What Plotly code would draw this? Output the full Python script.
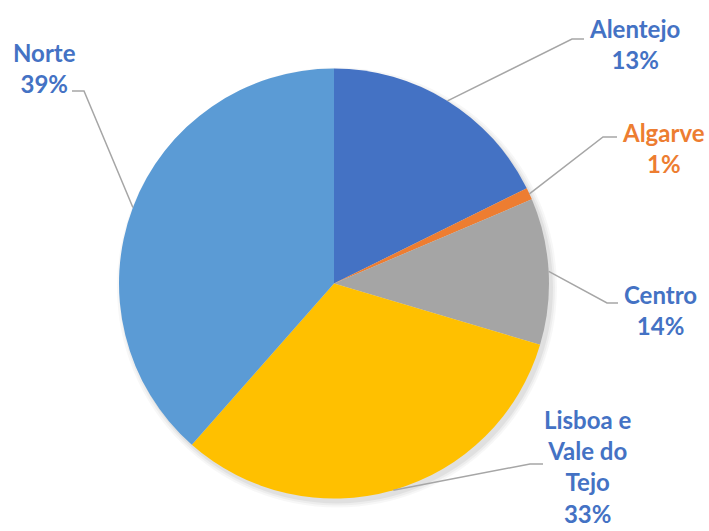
import math
import plotly.graph_objects as go

regions = ["Alentejo", "Algarve", "Centro", "Lisboa e Vale do Tejo", "Norte"]
shares = [17.7, 0.9, 11.0, 31.9, 38.5]
label_text = ["Alentejo<br>13%", "Algarve<br>1%", "Centro<br>14%",
              "Lisboa e<br>Vale do<br>Tejo<br>33%", "Norte<br>39%"]
colors = ["#4472C4", "#ED7D31", "#A5A5A5", "#FFC000", "#5B9BD5"]
label_colors = ["#4472C4", "#ED7D31", "#4472C4", "#4472C4", "#4472C4"]

W, H = 709, 531
cx, cy, R = 334, 283.5, 215

# label block centres and leader elbows (pixels)
label_pos = [(634, 44), (663, 148), (660, 310), (588, 466), (44, 68)]
elbows = [((572, 39), (584, 39)), ((603, 137), (617, 137)), ((607, 303), (618, 303)),
          ((530, 464), (543, 464)), ((84, 91), (72, 91))]

fig = go.Figure()

# soft shadow under the pie
for i, op in enumerate([0.05, 0.04, 0.03]):
    r = R + 1 + i * 2
    fig.add_shape(type="circle", xref="x", yref="y", layer="below",
                  x0=cx + 3 - r, x1=cx + 3 + r, y0=cy + 4 - r, y1=cy + 4 + r,
                  fillcolor=f"rgba(0,0,0,{op})", line=dict(width=0))

fig.add_trace(go.Pie(
    labels=regions, values=shares, sort=False, direction="clockwise", rotation=0,
    marker=dict(colors=colors, line=dict(width=0)),
    textinfo="none", hoverinfo="label+percent", showlegend=False,
    domain=dict(x=[(cx - R) / W, (cx + R) / W], y=[(H - cy - R) / H, (H - cy + R) / H]),
))

total = sum(shares)
cum = 0
for i, v in enumerate(shares):
    mid = (cum + v / 2) / total * 2 * math.pi
    cum += v
    ax = cx + R * math.sin(mid)
    ay = cy - R * math.cos(mid)
    (ex, ey), (tx, ty) = elbows[i]
    fig.add_shape(type="path", xref="x", yref="y",
                  path=f"M {ax:.1f},{ay:.1f} L {ex},{ey} L {tx},{ty}",
                  line=dict(color="#A6A6A6", width=1.5))
    lx, ly = label_pos[i]
    fig.add_annotation(x=lx, y=ly, xref="x", yref="y", text=label_text[i],
                       showarrow=False, align="center",
                       font=dict(family="Lato", size=24, color=label_colors[i], weight="bold"))

fig.update_layout(
    width=W, height=H,
    margin=dict(l=0, r=0, t=0, b=0),
    paper_bgcolor="white", plot_bgcolor="rgba(0,0,0,0)",
    xaxis=dict(range=[0, W], visible=False, fixedrange=True),
    yaxis=dict(range=[H, 0], visible=False, fixedrange=True),
)

# drop the browser's default page margin so the figure sits at the window corner
fig.write_html("out.html", config={"displayModeBar": False},
               post_script="document.body.style.margin='0';document.body.style.overflow='hidden';")
